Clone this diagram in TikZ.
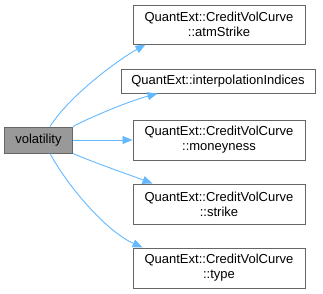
\documentclass[tikz,border=0pt]{standalone}
\usepackage{fontspec}
\setmainfont{Liberation Sans}
\usetikzlibrary{arrows.meta,calc}
\definecolor{edgeblue}{HTML}{63B8FF}
\definecolor{boxgray}{HTML}{999999}
\definecolor{boxborder}{HTML}{666666}
\begin{document}
\begin{tikzpicture}[x=1pt,y=-1pt,
  fn/.style={draw=boxborder, line width=1pt, fill=white, rectangle,
    inner sep=0pt, align=center, font=\fontsize{13}{15}\selectfont},
  current/.style={fn, fill=boxgray},
  call/.style={draw=edgeblue, line width=0.9pt,
    -{Triangle[length=10pt,width=8pt]}}]
\useasboundingbox (0,0) rectangle (323,293);

% caller
\node[current, minimum width=68pt, minimum height=26pt] (vol) at (38.5,140) {volatility};

% callees
\node[fn, minimum width=172pt, minimum height=39pt] (atm) at (219,24.5)
  {QuantExt::CreditVolCurve\\::atmStrike};
\node[fn, minimum width=194pt, minimum height=24pt] (interp) at (218,81)
  {QuantExt::interpolationIndices};
\node[fn, minimum width=172pt, minimum height=40pt] (money) at (219,140)
  {QuantExt::CreditVolCurve\\::moneyness};
\node[fn, minimum width=172pt, minimum height=40pt] (strike) at (219,204)
  {QuantExt::CreditVolCurve\\::strike};
\node[fn, minimum width=172pt, minimum height=40pt] (type) at (219,268)
  {QuantExt::CreditVolCurve\\::type};

% call edges
\draw[call] ($(vol.north)+(11.5,0)$) .. controls (70,95) and (118,60) .. ($(atm.south west)+(13,0)$);
\draw[call] (vol.north east) .. controls (95,115) and (130,101) .. ($(interp.south west)+(37,0)$);
\draw[call] (vol.east) -- (money.west);
\draw[call] (vol.south east) .. controls (95,163) and (130,175) .. ($(strike.north west)+(20,0)$);
\draw[call] ($(vol.south)+(11.5,0)$) .. controls (70,190) and (108,232) .. ($(type.north west)+(10,0)$);
\end{tikzpicture}
\end{document}
